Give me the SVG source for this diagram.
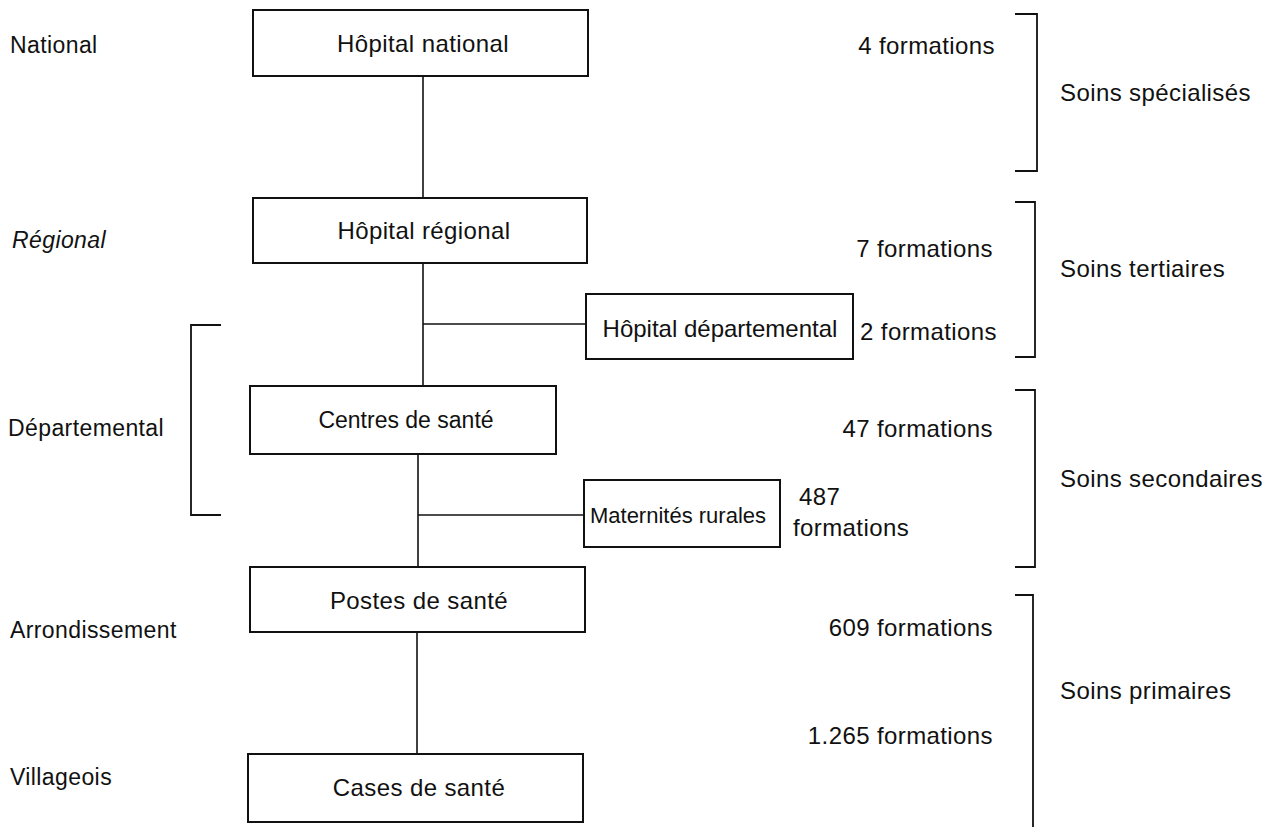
<svg xmlns="http://www.w3.org/2000/svg" width="1279" height="827" viewBox="0 0 1279 827">
  <style>
    .box { fill: #ffffff; stroke: #111111; stroke-width: 2; }
    .line { fill: none; stroke: #111111; stroke-width: 1.6; }
    .brk { fill: none; stroke: #111111; stroke-width: 1.8; }
    text { font-family: "Liberation Sans", Arial, sans-serif; fill: #111111; dominant-baseline: central; }
    .lbl { font-size: 22px; text-anchor: middle; }
    .big { font-size: 24px; letter-spacing: 0.4px; }
    .side { font-size: 23px; letter-spacing: 0.4px; }
    .cnt { font-size: 24px; letter-spacing: 0.4px; text-anchor: end; }
  </style>
  <rect x="0" y="0" width="1279" height="827" fill="#ffffff"/>

  <!-- administrative levels -->
  <g id="levels">
    <text class="side" x="10" y="45">National</text>
    <text class="side" x="12" y="240" font-style="italic">Régional</text>
    <text class="side" x="8" y="428">Départemental</text>
    <text class="side" x="10" y="630">Arrondissement</text>
    <text class="side" x="10" y="777">Villageois</text>
    <path class="brk" d="M221,325 H191 V515 H221"/>
  </g>

  <!-- links between facility levels -->
  <g id="connectors">
    <line class="line" x1="423" y1="76" x2="423" y2="198"/>
    <line class="line" x1="423" y1="263" x2="423" y2="386"/>
    <line class="line" x1="423" y1="324" x2="586" y2="324"/>
    <line class="line" x1="418" y1="454" x2="418" y2="567"/>
    <line class="line" x1="418" y1="515" x2="584" y2="515"/>
    <line class="line" x1="417" y1="632" x2="417" y2="754"/>
  </g>

  <g id="hopital-national">
    <rect class="box" x="253" y="10" width="335" height="66"/>
    <text class="lbl big" x="423" y="43">Hôpital national</text>
  </g>
  <g id="hopital-regional">
    <rect class="box" x="253" y="198" width="334" height="65"/>
    <text class="lbl big" x="424" y="230">Hôpital régional</text>
  </g>
  <g id="hopital-departemental">
    <rect class="box" x="586" y="294" width="267" height="65"/>
    <text class="lbl" x="720" y="328" style="font-size:24px">Hôpital départemental</text>
  </g>
  <g id="centres-sante">
    <rect class="box" x="250" y="386" width="306" height="68"/>
    <text class="lbl" x="406" y="420" style="font-size:23px">Centres de santé</text>
  </g>
  <g id="maternites-rurales">
    <rect class="box" x="584" y="480" width="196" height="67"/>
    <text class="lbl" x="678" y="515" style="font-size:22px">Maternités rurales</text>
  </g>
  <g id="postes-sante">
    <rect class="box" x="250" y="567" width="335" height="65"/>
    <text class="lbl big" x="419" y="600">Postes de santé</text>
  </g>
  <g id="cases-sante">
    <rect class="box" x="248" y="754" width="335" height="68"/>
    <text class="lbl big" x="419" y="787">Cases de santé</text>
  </g>

  <!-- number of facilities per level -->
  <g id="counts">
    <text class="cnt" x="995" y="45">4 formations</text>
    <text class="cnt" x="993" y="248">7 formations</text>
    <text class="big" x="860" y="331">2 formations</text>
    <text class="cnt" x="993" y="428">47 formations</text>
    <text class="big" x="799" y="496">487</text>
    <text class="big" x="793" y="527">formations</text>
    <text class="cnt" x="993" y="627">609 formations</text>
    <text class="cnt" x="993" y="735">1.265 formations</text>
  </g>

  <!-- levels of care -->
  <g id="care-levels">
    <path class="brk" d="M1015,14 H1037 V171 H1015"/>
    <text class="big" x="1060" y="92">Soins spécialisés</text>
    <path class="brk" d="M1015,202 H1035 V357 H1015"/>
    <text class="big" x="1060" y="268">Soins tertiaires</text>
    <path class="brk" d="M1015,390 H1035 V567 H1015"/>
    <text class="big" x="1060" y="478">Soins secondaires</text>
    <path class="brk" d="M1015,595 H1033 V827"/>
    <text class="big" x="1060" y="690">Soins primaires</text>
  </g>
</svg>
